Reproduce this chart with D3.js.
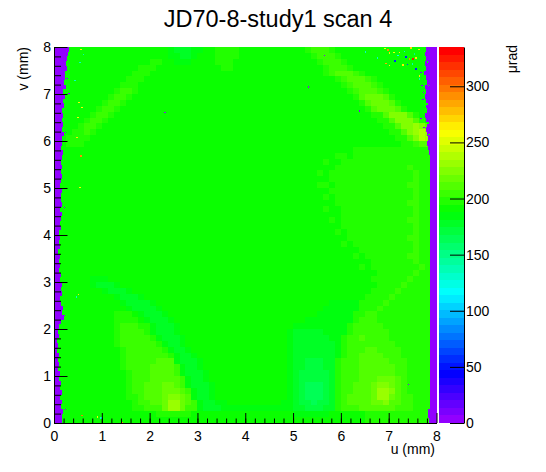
<!DOCTYPE html>
<html>
<head>
<meta charset="utf-8">
<script src="https://cdn.jsdelivr.net/npm/d3@7"></script>
<style>
  body { margin: 0; background: #fff; }
  text { font-family: "Liberation Sans", Arial, sans-serif; }
</style>
</head>
<body>
<div id="viz"></div>
<script>
const TITLE = "JD70-8-study1 scan 4";
const X_LABEL = "u (mm)";
const Y_LABEL = "v (mm)";
const Z_LABEL = "μrad";

const xTicks = [0, 1, 2, 3, 4, 5, 6, 7, 8];
const yTicks = [0, 1, 2, 3, 4, 5, 6, 7, 8];
const zTicks = [0, 50, 100, 150, 200, 250, 300];
const zMax = 335;

// map cell size (mm) and grid, rows top (v=8) to bottom (v=0), run-length coded
const cell = 0.125;
const levelCodes = "abcdefghijklm";
const levelValues = [164, 171, 178, 184, 191, 198, 204, 211, 218, 224, 231, 238, 245];
const gridRows = [
  "19e 1d 3c 2d 2e 4f 11e 1f 3g 1f 17e",
  "19e 2d 2c 1d 3e 4f 12e 1f 3g 1f 16e",
  "16e 2f 2e 3d 4e 3f 14e 1f 3g 1f 15e",
  "14e 3f 11e 2f 15e 1f 3g 1f 14e",
  "13e 3f 29e 1f 1g 3h 1g 1f 12e",
  "12e 3f 32e 1f 1g 3h 1g 1f 10e",
  "11e 3f 34e 1f 1g 3h 1g 1f 9e",
  "10e 1f 2g 1f 35e 1f 1g 3h 1g 1f 8e",
  "9e 1f 2g 1f 37e 1f 1h 3i 1h 1f 7e",
  "8e 1f 2g 1f 39e 1f 1h 3i 1h 1f 6e",
  "7e 1f 2g 1f 41e 1f 1h 3i 1h 1f 5e",
  "6e 1f 2g 1f 43e 2f 1h 3j 1h 1f 3e",
  "5e 1f 2g 1f 45e 2f 1h 3j 1h 1f 2e",
  "4e 1f 2g 1f 47e 2f 1h 2j 1k 1j 1h 1e",
  "3e 2f 1g 1f 49e 2f 1h 1j 1k 1l 1k 1e",
  "2e 4f 51e 2f 1h 1j 1l 1k 1e",
  "2e 3f 53e 2f 1g 2h 1e",
  "50e 13f 1e",
  "47e 2f 1e 13f 1e",
  "45e 1f 2e 16f",
  "47e 12f 1g 3f 1e",
  "44e 1f 1e 14f 1g 2f 1e",
  "46e 14f 1g 2f 1e",
  "44e 2f 1e 12f 2g 2f 1e",
  "46e 14f 1g 2f 1e",
  "45e 1f 1e 13f 1g 2f 1e",
  "47e 12f 2g 2f 1e",
  "45e 1f 2e 12f 1g 2f 1e",
  "48e 12f 1g 2f 1e",
  "46e 1f 1e 11f 2g 2f 1e",
  "48e 12f 1g 2f 1e",
  "47e 1f 1e 11f 1g 2f 1e",
  "49e 10f 2g 2f 1e",
  "48e 1f 1e 10f 1g 2f 1e",
  "51e 9f 1g 2f 1e",
  "50e 1f 1e 7f 2g 2f 1e",
  "53e 7f 1g 2f 1e",
  "51e 1f 1e 8f 1g 1f 1e",
  "54e 6f 1g 2f 1e",
  "6e 3d 44e 6f 1g 3f 1e",
  "6e 1d 3c 1d 43e 4f 1g 4f 1e",
  "8e 1d 3c 1d 40e 4f 1g 5f 1e",
  "10e 1d 3c 1d 37e 4f 1g 6f 1e",
  "11e 1d 4c 1d 29e 5d 4f 1g 7f 1e",
  "12e 1d 4c 1d 27e 6d 3f 1g 8f 1e",
  "10e 3f 1e 1d 3c 1d 25e 6d 2f 2g 9f 1e",
  "10e 4f 1e 1d 3c 1d 22e 8d 1f 3g 9f 1e",
  "10e 1f 3g 2f 1d 3c 1d 19e 9d 1f 5g 8f 1e",
  "10e 1f 4g 1f 1d 3c 1d 18e 1d 5c 4d 1f 6g 7f 1e",
  "10e 1f 5g 1f 1d 3c 1d 17e 1d 6c 2d 1f 2g 1h 4g 7f 1e",
  "10e 1f 6g 1f 1d 2c 1d 17e 1d 7c 1d 1f 8g 6f 1e",
  "11e 1f 6g 1f 1d 2c 1d 16e 1d 7c 1d 1f 3g 2h 4g 5f 1e",
  "11e 1f 7g 1f 1d 2c 1d 15e 1d 7c 1d 1f 2g 4h 3g 5f 1e",
  "11e 1f 5g 3h 1d 3c 1d 14e 1d 2c 3b 2c 1f 3g 5h 3g 4f 1e",
  "11e 1f 4g 4h 1g 1d 2c 1d 14e 1d 2c 3b 2c 1f 3g 6h 2g 4f 1e",
  "12e 1f 3g 4h 1g 1d 3c 1d 13e 1d 1c 5b 1c 1f 3g 6h 2g 4f 1e",
  "12e 1f 3g 5h 1g 1d 2c 1d 13e 1d 1c 5b 1c 1f 3g 3h 3i 1h 1g 4f 1e",
  "12e 1f 2g 3h 2i 1h 1g 1d 3c 1d 12e 1d 1c 1b 3a 1b 1c 1f 2g 3h 1i 2j 1i 1h 1g 4f 1e",
  "12e 1f 2g 3h 3i 1h 1g 1d 2c 1d 12e 1d 1c 1b 3a 1b 1c 1f 2g 3h 1i 2k 1j 1h 1g 4f 1e",
  "12e 2f 1g 3h 1i 2j 1i 1h 1d 2c 1d 12e 1d 1c 1b 3a 1b 1c 1f 1g 4h 1i 2k 1i 1h 2g 3f 1e",
  "13e 1f 2g 2h 1i 2k 1i 1h 1g 1d 2c 2d 9e 2d 1c 2b 1a 2b 1c 1f 1g 4h 2i 1j 2h 2g 3f 1e",
  "13e 2f 3g 1i 2k 1i 2g 1d 3c 12d 2c 3b 2c 1f 3g 6h 3g 3f 1e",
  "17e 6f 17e 6d 6e 11f 1e",
  "52e 11f 1e"
];

// zero strip on the left: right end (u, mm) per 0.1 mm row, top to bottom
const leftEdge = [
  0.32, 0.29, 0.27, 0.25, 0.27, 0.23, 0.24, 0.21, 0.25, 0.19,
  0.22, 0.18, 0.20, 0.17, 0.19, 0.16, 0.18, 0.17, 0.20, 0.16,
  0.17, 0.15, 0.18, 0.16, 0.15, 0.17, 0.14, 0.16, 0.15, 0.13,
  0.16, 0.14, 0.15, 0.17, 0.13, 0.16, 0.14, 0.12, 0.15, 0.11,
  0.13, 0.10, 0.12, 0.09, 0.12, 0.10, 0.13, 0.11, 0.15, 0.13,
  0.17, 0.14, 0.16, 0.13, 0.15, 0.19, 0.16, 0.20, 0.15, 0.11,
  0.08, 0.10, 0.07, 0.09, 0.06, 0.10, 0.08, 0.11, 0.09, 0.12,
  0.10, 0.14, 0.12, 0.16, 0.13, 0.17, 0.15, 0.18, 0.16, 0.17
];
const edgeValue = 0;

// zero strip on the right: [v top, v bottom, u start]
const rightEdge = [
  [8.0, 7.9, 7.77], [7.9, 7.8, 7.75], [7.8, 7.7, 7.79], [7.7, 7.6, 7.76],
  [7.6, 7.5, 7.78], [7.5, 7.4, 7.74], [7.4, 7.3, 7.77], [7.3, 7.2, 7.80],
  [7.2, 7.1, 7.76], [7.1, 7.0, 7.78], [7.0, 6.9, 7.75], [6.9, 6.8, 7.79],
  [6.8, 6.7, 7.77], [6.7, 6.6, 7.80], [6.6, 6.5, 7.76], [6.5, 6.4, 7.79],
  [6.4, 6.3, 7.81], [6.3, 6.2, 7.78], [6.2, 6.1, 7.80], [6.1, 6.0, 7.82],
  [6.0, 5.9, 7.81], [5.9, 5.8, 7.83], [5.8, 5.7, 7.84], [5.7, 0.3, 7.855],
  [0.3, 0.2, 7.83], [0.2, 0.1, 7.82], [0.1, 0.0, 7.84]
];

// single noisy pixels: [u, v, value]
const specks = [
  [6.50, 7.91, 130], [6.91, 7.98, 258], [6.97, 7.95, 290], [7.00, 7.89, 262],
  [7.10, 7.90, 258], [7.21, 7.90, 255], [7.31, 7.92, 130], [7.35, 7.80, 60],
  [7.42, 7.76, 292], [7.49, 7.76, 325], [7.56, 7.78, 262], [7.28, 7.63, 262],
  [7.38, 7.64, 65], [7.48, 7.65, 135], [7.56, 7.55, 55], [6.93, 7.66, 285],
  [7.00, 7.62, 258], [7.63, 7.40, 262], [7.63, 7.33, 140], [7.66, 7.47, 10],
  [7.18, 7.83, 120], [6.75, 7.78, 128], [7.62, 7.96, 262], [7.45, 7.99, 270],
  [7.52, 7.87, 150], [7.12, 7.72, 60], [7.68, 7.20, 0], [7.70, 6.90, 0],
  [7.66, 6.50, 0], [7.72, 6.30, 0], [7.71, 7.05, 0],
  [7.80, 7.70, 191], [7.82, 7.20, 191], [7.79, 6.80, 191], [7.81, 6.40, 191], [7.83, 6.15, 191],
  [0.55, 7.96, 258], [0.53, 7.68, 130], [0.60, 7.85, 140], [0.51, 6.83, 258],
  [0.49, 6.51, 258], [0.47, 6.09, 262], [0.57, 6.73, 255], [0.55, 5.70, 290],
  [0.53, 5.03, 258], [0.42, 7.30, 130], [0.50, 2.75, 262], [0.45, 2.70, 130],
  [0.57, 0.18, 300], [0.90, 0.14, 258], [0.97, 0.12, 130], [1.41, 0.03, 290],
  [0.30, 7.03, 0], [0.26, 7.35, 0], [0.22, 6.20, 0], [0.20, 4.60, 0],
  [0.21, 2.30, 0], [0.22, 0.30, 0],
  [5.64, 7.84, 0], [5.31, 7.16, 0], [6.38, 6.65, 0], [2.31, 6.62, 0], [7.40, 0.84, 0]
];
const speckSize = 0.03;

const width = 546,
  height = 472;

const svg = d3
  .select("#viz")
  .append("svg")
  .attr("width", width)
  .attr("height", height);

//SCALES
const xScale = d3.scaleLinear().domain([0, 8]).range([54, 436.5]);
const yScale = d3.scaleLinear().domain([0, 8]).range([423, 47]);
const zScale = d3.scaleLinear().domain([0, zMax]).range([423, 47]);

// ROOT "pretty" palette: 50 hues from violet to red
const palette = d3.range(50).map(i => d3.hsl(280 - (i + 1) * 5.6, 1, 0.5).formatHex());
const color = d3.scaleQuantize().domain([0, zMax]).range(palette);

//HEAT MAP
const runs = [];
gridRows.forEach((row, r) => {
  let c = 0;
  row.split(" ").forEach(tok => {
    const n = +tok.slice(0, -1);
    const value = levelValues[levelCodes.indexOf(tok.slice(-1))];
    runs.push({ u0: c * cell, u1: Math.min(c + n, 64) * cell, v0: 8 - r * cell, v1: 8 - (r + 1) * cell, value });
    c += n;
  });
  if (c !== 64) console.log(`row ${r}: ${c} cells`);
});

const heat = svg.append("g").attr("shape-rendering", "crispEdges");

heat
  .selectAll("rect.cell")
  .data(runs)
  .enter()
  .append("rect")
  .attr("class", "cell")
  .attr("x", d => xScale(d.u0))
  .attr("y", d => yScale(d.v0))
  .attr("width", d => xScale(d.u1) - xScale(d.u0))
  .attr("height", d => yScale(d.v1) - yScale(d.v0))
  .attr("fill", d => color(d.value));

heat
  .selectAll("rect.left")
  .data(leftEdge)
  .enter()
  .append("rect")
  .attr("class", "left")
  .attr("x", xScale(0))
  .attr("y", (d, i) => yScale(8 - i * 0.1))
  .attr("width", d => xScale(d) - xScale(0))
  .attr("height", yScale(0) - yScale(0.1))
  .attr("fill", color(edgeValue));

heat
  .selectAll("rect.right")
  .data(rightEdge)
  .enter()
  .append("rect")
  .attr("class", "right")
  .attr("x", d => xScale(d[2]))
  .attr("y", d => yScale(d[0]))
  .attr("width", d => xScale(8) - xScale(d[2]))
  .attr("height", d => yScale(d[1]) - yScale(d[0]))
  .attr("fill", color(edgeValue));

heat
  .selectAll("rect.speck")
  .data(specks)
  .enter()
  .append("rect")
  .attr("class", "speck")
  .attr("x", d => xScale(d[0]))
  .attr("y", d => yScale(d[1]))
  .attr("width", xScale(speckSize) - xScale(0))
  .attr("height", yScale(0) - yScale(speckSize))
  .attr("fill", d => color(d[2]));

//PALETTE
const bandStep = zMax / palette.length;
svg
  .append("g")
  .attr("shape-rendering", "crispEdges")
  .selectAll("rect")
  .data(palette)
  .enter()
  .append("rect")
  .attr("x", 439)
  .attr("y", (d, i) => zScale((i + 1) * bandStep))
  .attr("width", 25)
  .attr("height", (d, i) => zScale(i * bandStep) - zScale((i + 1) * bandStep))
  .attr("fill", d => d);

//AXES
const styleAxis = g => g.attr("font-size", 14).attr("font-family", "Liberation Sans, Arial, sans-serif");

svg
  .append("g")
  .attr("transform", `translate(0,${yScale(0)})`)
  .call(d3.axisBottom(xScale).tickValues(d3.range(0.2, 8, 0.2)).tickSize(-4.5).tickFormat(""))
  .call(g => g.select(".domain").remove());

svg
  .append("g")
  .attr("id", "x-axis")
  .attr("transform", `translate(0,${yScale(0)})`)
  .call(d3.axisBottom(xScale).tickValues(xTicks).tickFormat(d3.format("d")).tickSizeInner(-10).tickSizeOuter(0).tickPadding(8))
  .call(styleAxis);

svg
  .append("g")
  .attr("transform", `translate(${xScale(0)},0)`)
  .call(d3.axisLeft(yScale).tickValues(d3.range(0.2, 8, 0.2)).tickSize(-7).tickFormat(""))
  .call(g => g.select(".domain").remove());

svg
  .append("g")
  .attr("id", "y-axis")
  .attr("transform", `translate(${xScale(0)},0)`)
  .call(d3.axisLeft(yScale).tickValues(yTicks).tickFormat(d3.format("d")).tickSizeInner(-13.5).tickSizeOuter(0).tickPadding(3))
  .call(styleAxis);

svg
  .append("g")
  .attr("id", "z-axis")
  .attr("transform", "translate(464,0)")
  .call(d3.axisRight(zScale).tickValues(zTicks).tickSizeInner(-14).tickSizeOuter(0).tickPadding(2))
  .call(styleAxis);

//TEXT
svg
  .append("text")
  .attr("x", 278)
  .attr("y", 26.5)
  .attr("text-anchor", "middle")
  .attr("font-size", 23.5)
  .text(TITLE);

svg
  .append("text")
  .attr("x", 435)
  .attr("y", 454)
  .attr("text-anchor", "end")
  .attr("font-size", 14)
  .text(X_LABEL);

svg
  .append("text")
  .attr("transform", "translate(28,47) rotate(-90)")
  .attr("text-anchor", "end")
  .attr("font-size", 14)
  .text(Y_LABEL);

svg
  .append("text")
  .attr("transform", "translate(517,45) rotate(-90)")
  .attr("text-anchor", "end")
  .attr("font-size", 14)
  .text(Z_LABEL);
</script>
</body>
</html>
